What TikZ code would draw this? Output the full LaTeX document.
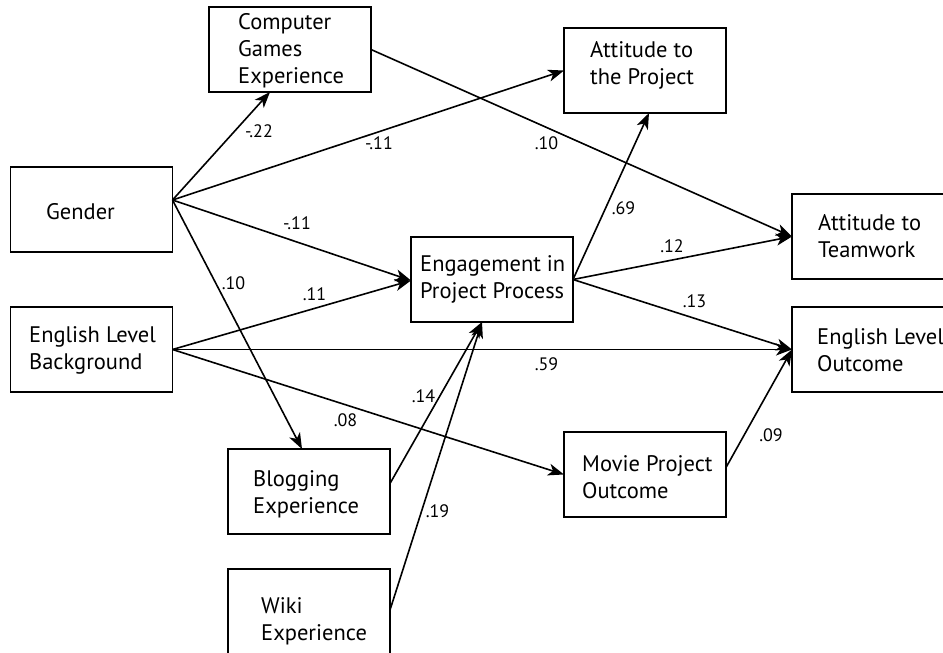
\documentclass[tikz,border=0pt]{standalone}
\usepackage{fontspec}
\setmainfont{PT Sans}
\usetikzlibrary{arrows.meta}
\begin{document}
\begin{tikzpicture}[x=1pt,y=-1pt,
  box/.style={draw, line width=1.5pt, minimum width=162pt, minimum height=85pt, inner sep=0pt, outer sep=0pt},
  txt/.style={anchor=west, align=left, inner sep=0pt, font=\fontsize{22.5}{27}\selectfont},
  lbl/.style={inner sep=0pt, font=\fontsize{18}{20}\selectfont},
  arr/.style={-{Stealth[length=16pt,width=12pt,inset=4.5pt]}, line width=1.6pt}]
\useasboundingbox (0,0) rectangle (943,653);
\clip (0,0) rectangle (943,653);
% boxes
\node[box] (cge) at (290,49.5) {};
\node[box] (gender) at (91.5,209.5) {};
\node[box] (elb) at (91.5,349.5) {};
\node[box] (eng) at (492,279.5) {};
\node[box] (atp) at (645,70.5) {};
\node[box] (atw) at (873,236.5) {};
\node[box] (elo) at (873,349.5) {};
\node[box] (blog) at (309,491.5) {};
\node[box] (wiki) at (309,611.5) {};
\node[box] (movie) at (645,474.5) {};
% texts
\node[txt] (tcge) at (238,50.5) {Computer\\Games\\Experience};
\node[txt] (tgender) at (46,212) {Gender};
\node[txt] (telb) at (29,350) {English Level\\Background};
\node[txt] (teng) at (420,279) {Engagement in\\Project Process};
\node[txt] (tatp) at (590,65) {Attitude to\\the Project};
\node[txt] (tatw) at (818,236) {Attitude to\\Teamwork};
\node[txt] (telo) at (817,350) {English Level\\Outcome};
\node[txt] (tblog) at (253,494) {Blogging\\Experience};
\node[txt] (twiki) at (261,621) {Wiki\\Experience};
\node[txt] (tmovie) at (582,477) {Movie Project\\Outcome};
% connectors
\draw[arr] ([yshift=9.5pt]gender.east) -- ([xshift=-20pt]cge.south);
\draw[arr] ([yshift=9.5pt]gender.east) -- (atp.west);
\draw[arr] ([yshift=9.5pt]gender.east) -- ([yshift=-1pt]eng.west);
\draw[arr] ([yshift=9.5pt]gender.east) -- ([xshift=-7pt]blog.north);
\draw[arr] (cge.east) -- (atw.west);
\draw[arr] (elb.east) -- ([yshift=-1pt]eng.west);
\draw[arr] (elb.east) -- (elo.west);
\draw[arr] (elb.east) -- (movie.west);
\draw[arr] (eng.east) -- ([xshift=4pt]atp.south);
\draw[arr] (eng.east) -- (atw.west);
\draw[arr] (eng.east) -- (elo.west);
\draw[arr] ([yshift=8pt]blog.east) -- ([xshift=-10pt]eng.south);
\draw[arr] ([yshift=1.5pt]wiki.east) -- ([xshift=-10pt]eng.south);
\draw[arr] ([yshift=7pt]movie.east) -- (elo.west);
% labels
\node[lbl] (l1) at (259,131) {-.22};
\node[lbl] (l2) at (379,143) {-.11};
\node[lbl] (l3) at (297,223) {-.11};
\node[lbl] (l4) at (233.5,283) {.10};
\node[lbl] (l5) at (314.5,294) {.11};
\node[lbl] (l6) at (546.5,143) {.10};
\node[lbl] (l7) at (623.5,208.5) {.69};
\node[lbl] (l8) at (672,246.5) {.12};
\node[lbl] (l9) at (694.5,301) {.13};
\node[lbl] (l10) at (546.5,364.5) {.59};
\node[lbl] (l11) at (423.5,396) {.14};
\node[lbl] (l12) at (345.5,420) {.08};
\node[lbl] (l13) at (437.5,511) {.19};
\node[lbl] (l14) at (771,435) {.09};
\end{tikzpicture}
\end{document}
